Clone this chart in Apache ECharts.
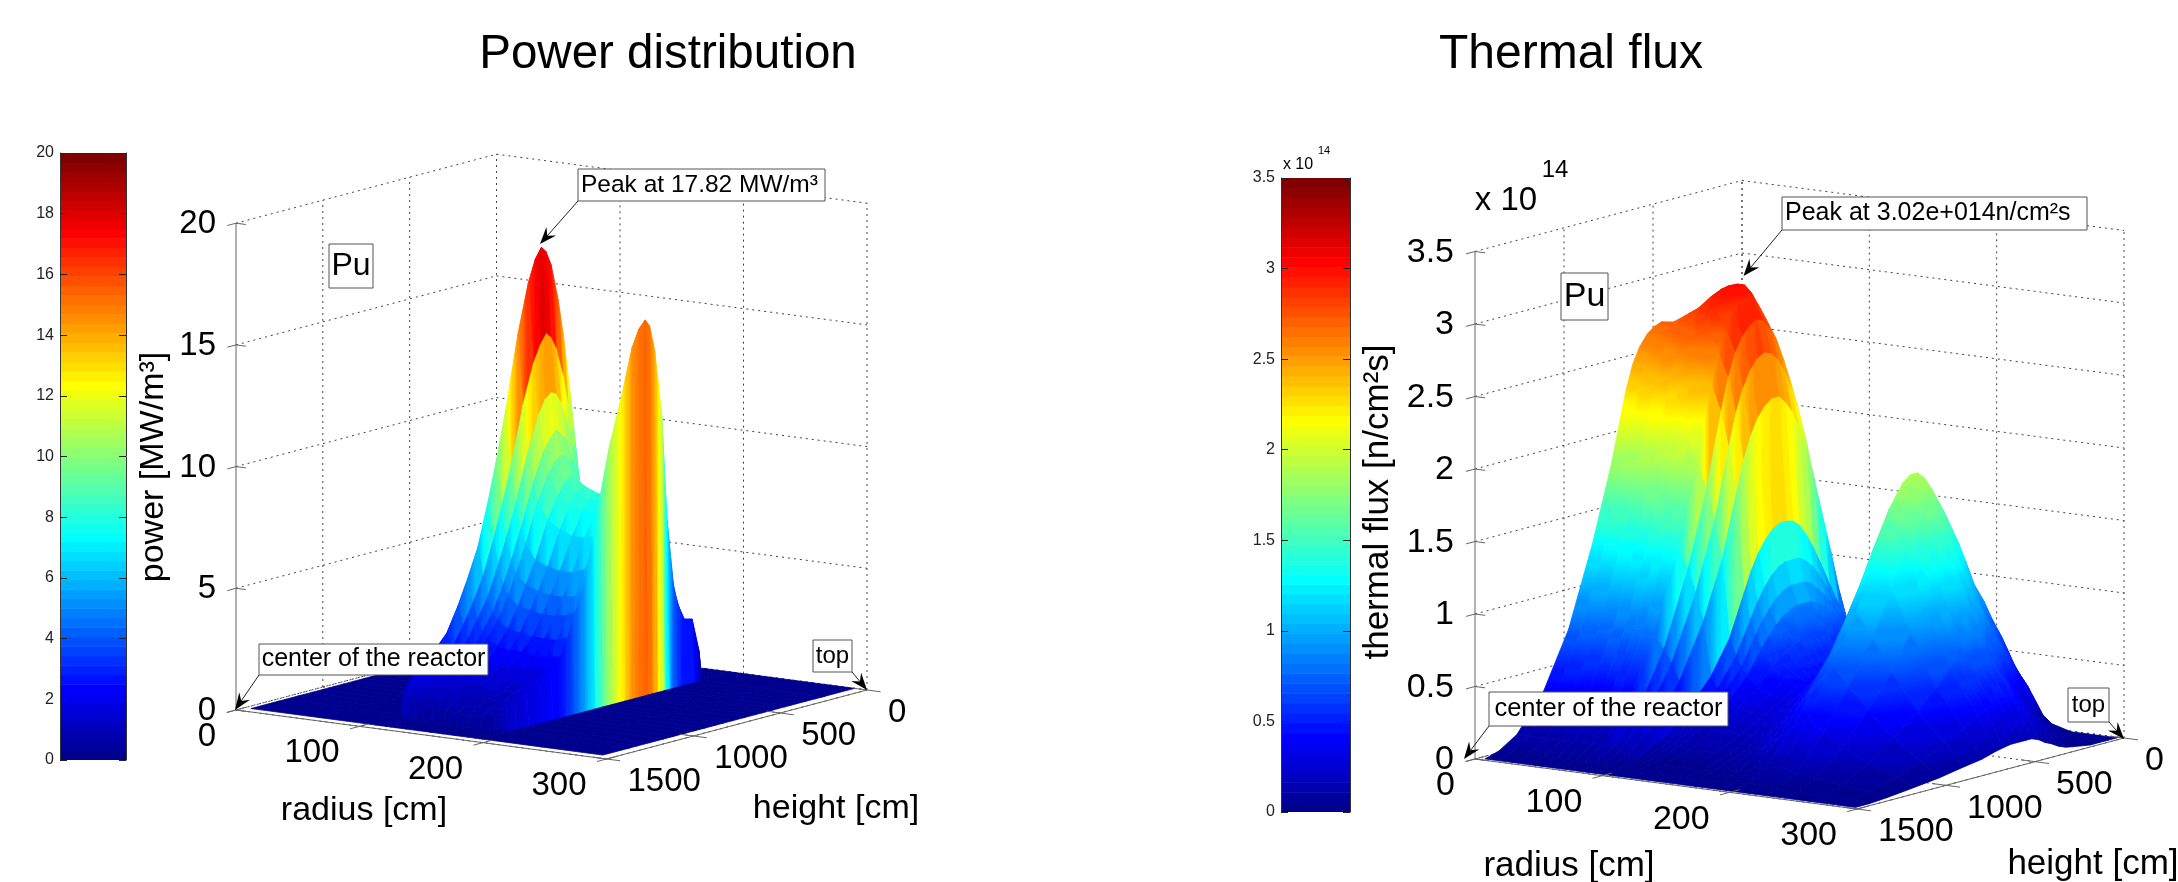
<!DOCTYPE html>
<html>
<head>
<meta charset="utf-8">
<style>html,body{margin:0;padding:0;background:#fff;overflow:hidden}#c{width:2178px;height:882px}</style>
<script src="https://cdn.jsdelivr.net/npm/echarts@6/dist/echarts.min.js"></script>
</head>
<body>
<div id="c"></div>
<script>
// ---------- DATA ----------
const radiusTicks = [0, 100, 200, 300];
const heightTicks = [0, 500, 1000, 1500];
const powerTicks = [0, 5, 10, 15, 20];
const fluxTicks = [0, 0.5, 1, 1.5, 2, 2.5, 3, 3.5];

// power [MW/m3]; one row per radius slice, one column per height
const powerRadius = [5, 60, 105, 106, 110, 114, 118, 122, 130, 140, 150, 160, 170, 180, 186, 190, 192, 240, 290];
const powerHeight = [0, 170, 185, 225, 280, 330, 370, 400, 440, 470, 495, 530, 570, 630, 700, 755, 800, 860, 920, 975, 1040, 1100, 1180, 1250, 1290, 1300, 1450];
const powerValues = [
 [0,0,0,0,0,0,0,0,0,0,0,0,0,0,0,0,0,0,0,0,0,0,0,0,0,0,0],
 [0,0,0,0,0,0,0,0,0,0,0,0,0,0,0,0,0,0,0,0,0,0,0,0,0,0,0],
 [0,0,0,0,0,0,0,0,0,0,0,0,0,0,0,0,0,0,0,0,0,0,0,0,0,0,0],
 [0,0,3,4.5,8,11.5,14,15.5,17,17.6,17.82,17.4,16.5,14.5,11.5,9.5,8,6.2,5,4,3,2.5,2,1.5,1,0,0],
 [0,0,2.4,3.6,6.4,9.2,11.2,12.4,13.6,14.1,14.3,13.9,13.2,11.6,9.2,7.6,6.4,5,4,3.2,2.4,2,1.6,1.2,.8,0,0],
 [0,0,2,3,5.4,7.7,9.4,10.4,11.4,11.8,11.9,11.7,11.1,9.7,7.7,6.4,5.4,4.2,3.4,2.7,2,1.7,1.3,1,.7,0,0],
 [0,0,1.7,2.6,4.6,6.7,8.1,9,9.9,10.2,10.4,10.1,9.6,8.4,6.7,5.5,4.6,3.6,2.9,2.3,1.7,1.5,1.2,.9,.6,0,0],
 [0,0,1.6,2.4,4.2,6.1,7.4,8.2,9,9.3,9.4,9.2,8.7,7.7,6.1,5,4.2,3.3,2.7,2.1,1.6,1.3,1.1,.8,.5,0,0],
 [0,0,1.4,2.2,3.8,5.5,6.7,7.4,8.2,8.4,8.6,8.4,7.9,7,5.5,4.6,3.8,3,2.4,1.9,1.4,1.2,1,.7,.5,0,0],
 [0,0,1.4,2.1,3.7,5.3,6.4,7.1,7.8,8.1,8.2,8,7.6,6.7,5.3,4.4,3.7,2.9,2.3,1.8,1.4,1.2,.9,.7,.5,0,0],
 [0,0,1.4,2,3.6,5.2,6.3,7,7.7,7.9,8,7.8,7.4,6.5,5.2,4.3,3.6,2.8,2.3,1.8,1.4,1.1,.9,.7,.5,0,0],
 [0,0,1.4,2,3.6,5.2,6.3,7,7.6,7.9,8,7.8,7.4,6.5,5.2,4.3,3.6,2.8,2.2,1.8,1.3,1.1,.9,.7,.4,0,0],
 [0,0,1.5,2.1,3.6,5.1,6.2,7,7.6,7.9,8,7.8,7.4,6.6,5.4,4.4,3.7,2.8,2.2,1.8,1.3,1.1,.9,.7,.5,0,0],
 [0,0,1.6,2.2,3.5,5,6.3,7.3,8,8.3,8.4,8.2,7.8,7,5.8,4.8,4,3,2.3,1.8,1.4,1.2,1,.8,.6,0,0],
 [0,0,1.9,2.3,3.3,5,6.8,8.3,9.4,9.8,10,9.8,9.3,8.3,7,5.8,4.8,3.6,2.7,2,1.6,1.4,1.2,1,.7,0,0],
 [0,0,1.2,2.6,2.7,4,7,11.3,14,15.1,15.4,15.1,14.4,12.5,10.6,8.6,6.8,5,3.6,2.6,2.2,2,1.7,1.4,1.1,0,0],
 [0,0,0,0,0,0,0,0,0,0,0,0,0,0,0,0,0,0,0,0,0,0,0,0,0,0,0],
 [0,0,0,0,0,0,0,0,0,0,0,0,0,0,0,0,0,0,0,0,0,0,0,0,0,0,0],
 [0,0,0,0,0,0,0,0,0,0,0,0,0,0,0,0,0,0,0,0,0,0,0,0,0,0,0]
];

// thermal flux [1e14 n/cm2s]; one row per radius slice, one column per height
const fluxRadius = [5, 15, 28, 40, 50, 58, 65, 72, 80, 86, 92, 98, 103, 107, 112, 120, 130, 140, 150, 160, 170, 180, 190, 200, 212, 225, 240, 260, 282, 296];
const fluxHeight = [10, 60, 110, 160, 210, 260, 300, 340, 380, 415, 450, 490, 530, 570, 610, 650, 690, 770, 875, 1010, 1150, 1300, 1400, 1480];
const fluxValues = [
 [.40,.74,1.05,1.38,1.70,2.03,2.24,2.40,2.54,2.62,2.67,2.69,2.67,2.63,2.56,2.45,2.27,1.80,1.29,.74,.36,.11,.03,0],
 [.40,.74,1.06,1.39,1.71,2.04,2.26,2.42,2.55,2.63,2.68,2.70,2.69,2.65,2.58,2.46,2.28,1.81,1.29,.75,.36,.11,.03,0],
 [.41,.76,1.09,1.43,1.76,2.10,2.32,2.48,2.62,2.70,2.76,2.78,2.76,2.72,2.65,2.53,2.35,1.86,1.32,.76,.37,.11,.03,0],
 [.43,.78,1.12,1.46,1.80,2.15,2.38,2.55,2.69,2.78,2.84,2.85,2.84,2.80,2.72,2.60,2.41,1.91,1.36,.78,.38,.11,.03,0],
 [.44,.81,1.15,1.51,1.86,2.22,2.46,2.63,2.78,2.87,2.93,2.94,2.93,2.89,2.81,2.68,2.49,1.97,1.40,.81,.39,.12,.03,0],
 [.45,.83,1.17,1.54,1.90,2.27,2.51,2.69,2.84,2.93,2.99,3.00,2.99,2.95,2.87,2.74,2.54,2.01,1.43,.83,.40,.12,.03,0],
 [.45,.83,1.18,1.55,1.91,2.28,2.52,2.70,2.85,2.94,3.00,3.02,3.00,2.96,2.88,2.75,2.55,2.02,1.44,.83,.40,.12,.03,0],
 [.42,.77,1.10,1.46,1.82,2.19,2.42,2.60,2.75,2.84,2.90,2.93,2.90,2.85,2.76,2.61,2.40,1.88,1.33,.77,.37,.11,.03,0],
 [.40,.71,1.02,1.37,1.72,2.08,2.30,2.47,2.62,2.70,2.77,2.79,2.76,2.70,2.60,2.44,2.22,1.72,1.20,.69,.33,.10,.03,0],
 [.38,.64,.92,1.25,1.58,1.91,2.12,2.28,2.42,2.50,2.55,2.57,2.54,2.47,2.36,2.20,1.98,1.50,1.04,.60,.29,.09,.02,0],
 [.36,.56,.80,1.10,1.38,1.67,1.87,2.02,2.14,2.21,2.26,2.26,2.22,2.15,2.04,1.88,1.67,1.24,.85,.48,.23,.07,.02,0],
 [.35,.46,.60,.75,.90,1.06,1.18,1.28,1.36,1.40,1.41,1.41,1.38,1.32,1.24,1.13,.99,.71,.48,.28,.14,.04,.01,0],
 [.34,.43,.54,.66,.78,.90,.99,1.07,1.12,1.15,1.15,1.15,1.13,1.08,1.01,.92,.81,.59,.40,.24,.12,.04,.01,0],
 [.34,.41,.50,.60,.70,.79,.86,.92,.97,.99,.99,.99,.97,.93,.87,.80,.71,.52,.36,.21,.11,.03,.01,0],
 [.33,.39,.46,.55,.63,.71,.76,.81,.84,.86,.86,.86,.84,.81,.76,.70,.63,.47,.33,.20,.10,.03,.01,0],
 [.32,.36,.41,.47,.52,.57,.60,.62,.64,.65,.65,.65,.64,.62,.59,.55,.51,.39,.29,.18,.09,.03,.01,0],
 [.30,.33,.36,.38,.41,.44,.46,.48,.49,.50,.50,.50,.50,.50,.49,.47,.44,.36,.27,.17,.09,.03,.01,0],
 [.30,.32,.34,.36,.38,.40,.41,.42,.43,.44,.44,.44,.44,.44,.43,.42,.40,.34,.26,.17,.09,.03,.01,0],
 [.30,.32,.34,.37,.39,.41,.42,.43,.44,.45,.45,.46,.46,.46,.45,.44,.42,.36,.28,.18,.09,.03,.01,0],
 [.31,.34,.37,.41,.44,.47,.49,.51,.53,.54,.55,.56,.57,.57,.56,.54,.51,.43,.33,.21,.11,.04,.01,0],
 [.33,.38,.43,.48,.54,.59,.63,.67,.70,.72,.74,.76,.78,.78,.76,.73,.69,.57,.42,.27,.14,.05,.01,0],
 [.36,.43,.50,.58,.66,.75,.81,.86,.91,.95,.98,1.01,1.03,1.03,1.00,.96,.90,.74,.55,.35,.19,.06,.02,0],
 [.40,.50,.59,.70,.80,.93,1.02,1.09,1.17,1.22,1.27,1.31,1.34,1.34,1.30,1.24,1.17,.96,.71,.47,.26,.08,.02,0],
 [.44,.57,.68,.81,.93,1.08,1.20,1.29,1.39,1.45,1.51,1.57,1.62,1.62,1.58,1.51,1.42,1.18,.88,.60,.33,.10,.03,0],
 [.47,.62,.75,.90,1.02,1.20,1.34,1.46,1.58,1.67,1.76,1.85,1.90,1.90,1.86,1.78,1.70,1.42,1.05,.72,.40,.12,.03,0],
 [.25,.38,.50,.62,.74,.86,.98,1.10,1.24,1.36,1.46,1.56,1.60,1.60,1.57,1.50,1.42,1.19,.88,.60,.33,.10,.03,0],
 [.05,.15,.32,.43,.55,.66,.76,.85,.95,1.03,1.10,1.17,1.20,1.20,1.18,1.13,1.06,.90,.67,.45,.25,.08,.02,0],
 [0,0,.01,.05,.12,.22,.30,.38,.48,.57,.65,.73,.75,.75,.73,.70,.66,.55,.42,.28,.15,.05,.01,0],
 [0,0,.01,.04,.08,.11,.15,.20,.26,.31,.36,.41,.41,.41,.40,.38,.36,.30,.23,.15,.08,.03,.01,0],
 [0,0,0,0,.01,.02,.03,.05,.08,.10,.13,.15,.15,.15,.15,.14,.13,.10,.08,.05,.03,.01,0,0]
];

// ---------- VIEW GEOMETRY ----------
const FONT = '"Liberation Sans", Arial, sans-serif';
const viewPower = { back:[496.5,641], rVec:[370.5,49], hVec:[-260.5,69], zScale:24.34, zMax:20, zTicks:powerTicks, fs:33, zLabelDx:-20, wallFrom:100, wallTo:200 };
const viewFlux  = { back:[1742,688],  rVec:[382,50],   hVec:[-267,71],   zScale:145,   zMax:3.5, zTicks:fluxTicks, fs:34, zLabelDx:-21, wallFrom:72, wallTo:112 };
const R_MAX = 300, H_MAX = 1500;

function project(v, r, h, z) {
  return [
    v.back[0] + v.rVec[0]*r/R_MAX + v.hVec[0]*h/H_MAX,
    v.back[1] + v.rVec[1]*r/R_MAX + v.hVec[1]*h/H_MAX - z*v.zScale
  ];
}

// MATLAB jet(64)
function clamp01(x){ return Math.max(0, Math.min(1, x)); }
function jet(t) {
  const k = Math.min(63, Math.max(0, Math.floor(t*64)));
  const v = (k+1)/64;
  const r = clamp01(Math.min(4*v-1.5, -4*v+4.5));
  const g = clamp01(Math.min(4*v-0.5, -4*v+3.5));
  const b = clamp01(Math.min(4*v+0.5, -4*v+2.5));
  return 'rgb(' + Math.round(r*255) + ',' + Math.round(g*255) + ',' + Math.round(b*255) + ')';
}

function makePaint(c0, c1, a, b, zMax) {
  const band = zMax/64;
  if (Math.abs(c1-c0) < band*0.5 || (a[0]===b[0] && a[1]===b[1])) return jet(((c0+c1)/2)/zMax);
  const n = Math.min(16, Math.ceil(Math.abs(c1-c0)/band)+1);
  const stops = [];
  for (let s=0; s<=n; s++) {
    const f = s/n;
    stops.push({offset:f, color:jet(Math.min(0.9999,Math.max(0,(c0+(c1-c0)*f)/zMax)))});
  }
  return {type:'linear', x:a[0], y:a[1], x2:b[0], y2:b[1], global:true, colorStops:stops};
}

// colour by the real height: gradient across the quad along the steepest rise on screen
function heightPaint(pts, zs, zMax) {
  const ex=pts[1][0]-pts[0][0], ey=pts[1][1]-pts[0][1], fx=pts[3][0]-pts[0][0], fy=pts[3][1]-pts[0][1];
  const det=ex*fy-ey*fx;
  const dz1=(zs[1]+zs[2]-zs[0]-zs[3])/2, dz2=(zs[2]+zs[3]-zs[0]-zs[1])/2;
  const zAvg=(zs[0]+zs[1]+zs[2]+zs[3])/4;
  if (Math.abs(det)<1e-3) return jet(zAvg/zMax);
  const gx=(dz1*fy-dz2*ey)/det, gy=(dz2*ex-dz1*fx)/det;
  const gLen=Math.hypot(gx,gy);
  if (gLen<1e-6) return jet(zAvg/zMax);
  const ux=gx/gLen, uy=gy/gLen;
  const cx=(pts[0][0]+pts[1][0]+pts[2][0]+pts[3][0])/4, cy=(pts[0][1]+pts[1][1]+pts[2][1]+pts[3][1])/4;
  let lo=Infinity, hi=-Infinity;
  pts.forEach(function(q){ const s=(q[0]-cx)*ux+(q[1]-cy)*uy; if(s<lo)lo=s; if(s>hi)hi=s; });
  return makePaint(zAvg+gLen*lo, zAvg+gLen*hi, [cx+ux*lo,cy+uy*lo], [cx+ux*hi,cy+uy*hi], zMax);
}

function surfaceSeries(view, radius, height, values) {
  const cells = [];
  for (let i=0; i<radius.length-1; i++)
    for (let j=0; j<height.length-1; j++) cells.push([i,j]);
  return {
    type:'custom', coordinateSystem:'cartesian2d', xAxisIndex:2, yAxisIndex:4,
    data:cells, encode:{x:0,y:1}, silent:true, clip:false, z:2, progressive:0, animation:false,
    renderItem:function(p, api){
      const i=api.value(0), j=api.value(1);
      const a=project(view,radius[i],height[j],values[i][j]);
      const b=project(view,radius[i],height[j+1],values[i][j+1]);
      const c=project(view,radius[i+1],height[j+1],values[i+1][j+1]);
      const d=project(view,radius[i+1],height[j],values[i+1][j]);
      const pts=[a,b,c,d].map(function(q){return api.coord(q);});
      let paint;
      if (radius[i]>=view.wallFrom && radius[i+1]<=view.wallTo) {
        const c0=Math.max(values[i][j],values[i+1][j]);
        const c1=Math.max(values[i][j+1],values[i+1][j+1]);
        paint=makePaint(c0,c1,[pts[0][0],0],[pts[1][0],0],view.zMax);
      } else {
        paint=heightPaint(pts,[values[i][j],values[i][j+1],values[i+1][j+1],values[i+1][j]],view.zMax);
      }
      return {type:'polygon', shape:{points:pts}, style:{fill:paint, stroke:paint, lineWidth:0.8}};
    }
  };
}

function frameSeries(view) {
  const segs=[];
  const zm=view.zMax;
  view.zTicks.forEach(function(z){
    segs.push({a:[0,H_MAX,z],b:[0,0,z]});
    segs.push({a:[0,0,z],b:[R_MAX,0,z]});
  });
  radiusTicks.forEach(function(r){
    segs.push({a:[r,0,0],b:[r,0,zm]});
    segs.push({a:[r,0,0],b:[r,H_MAX,0]});
  });
  heightTicks.forEach(function(h){
    if (h<H_MAX) segs.push({a:[0,h,0],b:[0,h,zm]});
    segs.push({a:[0,h,0],b:[R_MAX,h,0]});
  });
  return {
    type:'custom', coordinateSystem:'cartesian2d', xAxisIndex:2, yAxisIndex:4,
    data:segs.map(function(s,i){return [i,0];}), encode:{x:0,y:1}, silent:true, clip:false, z:1, animation:false,
    renderItem:function(p, api){
      const s=segs[api.value(0)];
      const a=api.coord(project(view,s.a[0],s.a[1],s.a[2]));
      const b=api.coord(project(view,s.b[0],s.b[1],s.b[2]));
      return {type:'line', shape:{x1:a[0],y1:a[1],x2:b[0],y2:b[1]}, style:{stroke:'#444',lineWidth:1,lineDash:[2,4]}};
    }
  };
}

function axesSeries(view) {
  const segs=[
    {a:[0,H_MAX,0],b:[0,H_MAX,view.zMax]},
    {a:[0,H_MAX,0],b:[R_MAX,H_MAX,0]},
    {a:[R_MAX,H_MAX,0],b:[R_MAX,0,0]}
  ];
  radiusTicks.forEach(function(r){ segs.push({a:[r,H_MAX-55,0],b:[r,H_MAX+55,0]}); });
  heightTicks.forEach(function(h){ segs.push({a:[R_MAX-11,h,0],b:[R_MAX+11,h,0]}); });
  view.zTicks.forEach(function(z){ segs.push({a:[0,H_MAX,z],b:[0,H_MAX+50,z]}); segs.push({a:[0,H_MAX,z],b:[8,H_MAX,z]}); });
  return {
    type:'custom', coordinateSystem:'cartesian2d', xAxisIndex:2, yAxisIndex:4,
    data:segs.map(function(s,i){return [i,0];}), encode:{x:0,y:1}, silent:true, clip:false, z:3, animation:false,
    renderItem:function(p, api){
      const s=segs[api.value(0)];
      const a=api.coord(project(view,s.a[0],s.a[1],s.a[2]));
      const b=api.coord(project(view,s.b[0],s.b[1],s.b[2]));
      return {type:'line', shape:{x1:a[0],y1:a[1],x2:b[0],y2:b[1]}, style:{stroke:'#666',lineWidth:1}};
    }
  };
}

function tickLabelSeries(view) {
  const items=[];
  view.zTicks.forEach(function(z){ items.push({p:[0,H_MAX,z],t:String(z),dx:view.zLabelDx,dy:1,al:'right'}); });
  radiusTicks.forEach(function(r){ items.push({p:[r,H_MAX,0],t:String(r),dx:-20,dy:27,al:'right'}); });
  heightTicks.forEach(function(h){ items.push({p:[R_MAX,h,0],t:String(h),dx:21,dy:23,al:'left'}); });
  return {
    type:'custom', coordinateSystem:'cartesian2d', xAxisIndex:2, yAxisIndex:4,
    data:items.map(function(s,i){return [i,0];}), encode:{x:0,y:1}, silent:true, clip:false, z:4, animation:false,
    renderItem:function(p, api){
      const s=items[api.value(0)];
      const a=api.coord(project(view,s.p[0],s.p[1],s.p[2]));
      return {type:'text', style:{x:a[0]+s.dx,y:a[1]+s.dy,text:s.t,fill:'#000',font:view.fs+'px '+FONT,align:s.al,verticalAlign:'middle'}};
    }
  };
}

function colorbarSeries(xIdx, yIdx, zMax) {
  const levels=[];
  for (let k=0;k<64;k++) levels.push([0.5,(k+0.5)*zMax/64]);
  return {
    type:'custom', coordinateSystem:'cartesian2d', xAxisIndex:xIdx, yAxisIndex:yIdx,
    data:levels, encode:{x:0,y:1}, silent:true, z:2, animation:false, clip:true,
    renderItem:function(p, api){
      const v=api.value(1), h=zMax/128;
      const a=api.coord([0,v+h]), b=api.coord([1,v-h]);
      const col=jet(v/zMax);
      return {type:'rect', shape:{x:a[0],y:a[1],width:b[0]-a[0],height:b[1]-a[1]+0.5}, style:{fill:col}};
    }
  };
}

function barAxis(gridIndex, zMax, interval, position, showLabels) {
  return {
    type:'value', gridIndex:gridIndex, min:0, max:zMax, interval:interval, position:position,
    splitLine:{show:false},
    axisLine:{show:true,onZero:false,lineStyle:{color:'#333',width:1}},
    axisTick:{show:true,inside:true,length:7,lineStyle:{color:'#222'}},
    axisLabel:{show:showLabels,margin:6,fontSize:16,color:'#222',fontFamily:FONT,padding:[5,0,0,0],hideOverlap:false,showMinLabel:true,showMaxLabel:true},
    z:5
  };
}

// ---------- ANNOTATIONS ----------
function boxText(x0,y0,x1,y1,text,size,leftAlign) {
  return [
    {type:'rect',z:100,shape:{x:x0,y:y0,width:x1-x0,height:y1-y0},style:{fill:'#fff',stroke:'#555',lineWidth:1}},
    {type:'text',z:101,x:leftAlign?x0+3:(x0+x1)/2,y:(y0+y1)/2,style:{text:text,fill:'#000',font:size+'px '+FONT,align:leftAlign?'left':'center',verticalAlign:'middle'}}
  ];
}
function arrow(from,to) {
  const dx=to[0]-from[0], dy=to[1]-from[1], L=Math.hypot(dx,dy), ux=dx/L, uy=dy/L, nx=-uy, ny=ux;
  const len=17, w=6.5, notch=11;
  return [
    {type:'line',z:100,shape:{x1:from[0],y1:from[1],x2:to[0]-ux*notch,y2:to[1]-uy*notch},style:{stroke:'#222',lineWidth:1}},
    {type:'polygon',z:100,shape:{points:[to,[to[0]-ux*len+nx*w,to[1]-uy*len+ny*w],[to[0]-ux*notch,to[1]-uy*notch],[to[0]-ux*len-nx*w,to[1]-uy*len-ny*w]]},style:{fill:'#000'}}
  ];
}
function plainText(x,y,text,size,rot) {
  return {type:'text',z:50,x:x,y:y,rotation:rot||0,style:{text:text,fill:'#000',font:size+'px '+FONT,align:'center',verticalAlign:'middle'}};
}

const graphics = [].concat(
  plainText(154,467,'power [MW/m³]',34,Math.PI/2),
  plainText(364,811,'radius [cm]',34),
  plainText(836,809,'height [cm]',34),
  plainText(1378,502,'thermal flux [n/cm²s]',35,Math.PI/2),
  plainText(1569,866,'radius [cm]',35),
  plainText(2093,864,'height [cm]',35),
  plainText(1506,201,'x 10',33),
  plainText(1555,170,'14',24),
  plainText(1298,165,'x 10',16),
  plainText(1324,151,'14',11),
  arrow([578,201],[540,244]),
  boxText(578,169,825,201,'Peak at 17.82 MW/m³',24.5,true),
  boxText(329,244,373,288,'Pu',32),
  arrow([259,675],[235,710]),
  boxText(259,644,488,675,'center of the reactor',25),
  arrow([852,672],[867,690]),
  boxText(813,640,852,672,'top',24),
  arrow([1782,230],[1743.5,276]),
  boxText(1782,197,2087,230,'Peak at 3.02e+014n/cm²s',25,true),
  boxText(1561,273,1608,320,'Pu',34),
  arrow([1489,726],[1464,759]),
  boxText(1489,692,1728,726,'center of the reactor',25.5),
  arrow([2109,722],[2124,739]),
  boxText(2068,688,2109,722,'top',24)
);

// ---------- CHART ----------
const chart = echarts.init(document.getElementById('c'), null, {renderer:'canvas'});
chart.setOption({
  animation:false,
  backgroundColor:'#fff',
  title:[
    {text:'Power distribution',left:663,top:50,textAlign:'center',textVerticalAlign:'middle',textStyle:{fontFamily:FONT,fontSize:47.5,fontWeight:'normal',color:'#000'}},
    {text:'Thermal flux',left:1566,top:50,textAlign:'center',textVerticalAlign:'middle',textStyle:{fontFamily:FONT,fontSize:48,fontWeight:'normal',color:'#000'}}
  ],
  grid:[
    {left:60,top:153,width:66,height:607},
    {left:1281,top:178,width:69,height:634},
    {left:0,top:0,width:2178,height:882}
  ],
  xAxis:[
    {type:'value',gridIndex:0,min:0,max:1,show:false},
    {type:'value',gridIndex:1,min:0,max:1,show:false},
    {type:'value',gridIndex:2,min:0,max:2178,show:false}
  ],
  yAxis:[
    barAxis(0,20,2,'left',true),
    barAxis(0,20,2,'right',false),
    barAxis(1,3.5,0.5,'left',true),
    barAxis(1,3.5,0.5,'right',false),
    {type:'value',gridIndex:2,min:0,max:882,inverse:true,show:false}
  ],
  graphic:{elements:graphics},
  series:[
    colorbarSeries(0,0,20),
    colorbarSeries(1,2,3.5),
    frameSeries(viewPower),
    frameSeries(viewFlux),
    surfaceSeries(viewPower,powerRadius,powerHeight,powerValues),
    surfaceSeries(viewFlux,fluxRadius,fluxHeight,fluxValues),
    axesSeries(viewPower),
    axesSeries(viewFlux),
    tickLabelSeries(viewPower),
    tickLabelSeries(viewFlux)
  ]
});
</script>
</body>
</html>
